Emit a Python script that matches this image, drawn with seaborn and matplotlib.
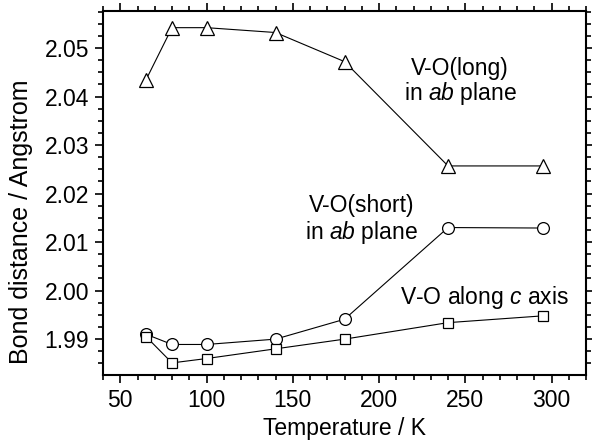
import matplotlib
matplotlib.use("Agg")
import matplotlib.pyplot as plt
from matplotlib.ticker import MultipleLocator, FormatStrFormatter
import pandas as pd
import seaborn as sns

# Temperature points (K)
temperature = [65, 80, 100, 140, 180, 240, 295]

# Bond distances (Angstrom)
vo_long = [2.0435, 2.0542, 2.0542, 2.0532, 2.0472, 2.0257, 2.0257]
vo_short = [1.9910, 1.9889, 1.9889, 1.9900, 1.9941, 2.0130, 2.0129]
vo_c = [1.9905, 1.9851, 1.9860, 1.9880, 1.9900, 1.9934, 1.9948]

sns.set_style("ticks")
plt.rcParams['font.family'] = ['Liberation Sans', 'DejaVu Sans']
plt.rcParams['mathtext.fontset'] = 'custom'
plt.rcParams['mathtext.it'] = 'Liberation Sans:italic'
plt.rcParams['mathtext.rm'] = 'Liberation Sans'
plt.rcParams['text.color'] = 'black'
plt.rcParams['axes.labelcolor'] = 'black'

fig, ax = plt.subplots(figsize=(5.92, 4.47), dpi=100)

series = [
    (vo_long, '^', 9.5),
    (vo_short, 'o', 8.5),
    (vo_c, 's', 7.5),
]
for values, marker, size in series:
    df = pd.DataFrame({'T': temperature, 'd': values})
    sns.lineplot(data=df, x='T', y='d', ax=ax, color='black', linewidth=0.8,
                 marker=marker, markersize=size, markerfacecolor='white',
                 markeredgecolor='black', markeredgewidth=0.9)

ax.set_xlim(40, 320)
ax.set_ylim(1.9826, 2.0576)
ax.xaxis.set_major_locator(MultipleLocator(50))
ax.xaxis.set_minor_locator(MultipleLocator(10))
ax.yaxis.set_major_locator(MultipleLocator(0.01))
ax.yaxis.set_minor_locator(MultipleLocator(0.0025))
ax.yaxis.set_major_formatter(FormatStrFormatter('%.2f'))

ax.tick_params(which='both', direction='out', top=True, right=True,
               labeltop=False, labelright=False, labelsize=16.5, width=1.2,
               colors='black')
ax.tick_params(which='major', length=6, pad=4)
ax.tick_params(which='minor', length=3.5)
for s in ax.spines.values():
    s.set_linewidth(1.5)
    s.set_color('black')

ax.set_xlabel('Temperature / K', fontsize=16.5, labelpad=4)
ax.set_ylabel('Bond distance / Angstrom', fontsize=18)
ax.yaxis.set_label_coords(-0.145, 0.42)

ax.text(247, 2.0431, 'V-O(long)\nin $ab$ plane', fontsize=16.5,
        ha='center', va='center', linespacing=1.0)
ax.text(190, 2.0145, 'V-O(short)\nin $ab$ plane', fontsize=16.5,
        ha='center', va='center', linespacing=1.1)
ax.text(261, 1.99865, 'V-O along $c$ axis', fontsize=16.5,
        ha='center', va='center')

fig.subplots_adjust(left=0.174, right=0.99, top=0.975, bottom=0.161)
fig.savefig('out.png', dpi=100)
